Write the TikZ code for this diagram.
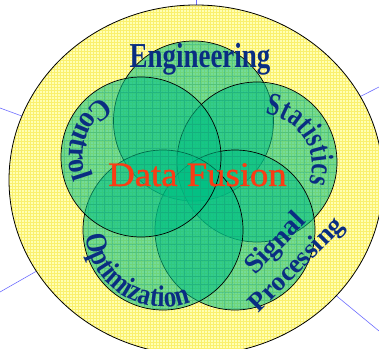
\documentclass[tikz,border=0pt]{standalone}
\usepackage{fontspec}
\setmainfont{Liberation Serif}
\newfontfamily\engfont[FakeStretch=0.77]{Liberation Serif}
\newfontfamily\ctlfont[FakeStretch=0.92]{Liberation Serif}
\newfontfamily\statfont[FakeStretch=0.74]{Liberation Serif}
\newfontfamily\optfont[FakeStretch=0.84]{Liberation Serif}
\newfontfamily\dffont[FakeStretch=1.07,FakeBold=1.2]{Liberation Serif}
\newcommand\ctlfmt{\ctlfont\bfseries\fontsize{30}{30}\selectfont}
\newcommand\statfmt{\statfont\bfseries\fontsize{32}{32}\selectfont}
\newcommand\optfmt{\optfont\bfseries\fontsize{30}{30}\selectfont}
\usetikzlibrary{patterns,decorations.text}
\definecolor{bgyellow}{RGB}{255,255,180}
\definecolor{gridyellow}{RGB}{250,240,110}
\definecolor{fusegreen}{RGB}{0,192,132}
\definecolor{gridgreen}{RGB}{30,160,120}
\definecolor{labelblue}{RGB}{10,45,130}
\definecolor{fusered}{RGB}{250,60,20}
\definecolor{raycol}{RGB}{110,110,255}
\begin{document}
\begin{tikzpicture}[x=1pt,y=1pt,
  ray/.style={draw=raycol, line width=0.6pt},
  rim/.style={draw=black, line width=0.8pt},
  circline/.style={draw=black, line width=0.7pt},
  gfill/.style={fill=fusegreen, fill opacity=0.55},
  ggrid/.style={draw=gridgreen, draw opacity=0.35, line width=0.5pt},
  lbl/.style={text=labelblue, inner sep=0pt, anchor=base}]
\useasboundingbox (0,0) rectangle (379,348);
\fill[white] (0,0) rectangle (379,348);
\coordinate (ctr) at (196,168);
\coordinate (r1) at (0,240);
\coordinate (r2) at (196,348);
\coordinate (r3) at (379,261);
\coordinate (r4) at (379,17);
\coordinate (r5) at (0,56);
\foreach \r in {r1,r2,r3,r4,r5}{\draw[ray] (ctr) -- (\r);}
\fill[bgyellow] (ctr) ellipse [x radius=187, y radius=175];
\fill[pattern=grid, pattern color=gridyellow] (ctr) ellipse [x radius=187, y radius=175];
\draw[rim] (ctr) ellipse [x radius=187, y radius=175];
\coordinate (cE) at (193.5,227);
\coordinate (cS) at (257,186);
\coordinate (cP) at (235,118);
\coordinate (cO) at (163,118);
\coordinate (cC) at (141,191);
\coordinate (cSt) at (260,182);
\foreach \c in {cE,cS,cP,cO,cC}{
  \begin{scope}
    \clip (\c) circle (80);
    \fill[gfill] (\c) circle (80);
    \draw[ggrid, step=8] (40,20) grid (360,330);
  \end{scope}
  \draw[circline] (\c) circle (80);
}
\node[lbl, font=\engfont\bfseries\fontsize{35}{35}\selectfont] (eng) at (200,280) {Engineering};
\node[anchor=base, inner sep=0pt, text=fusered, font=\dffont\fontsize{34.3}{34.3}\selectfont] (df) at (197.5,162) {Data Fusion};
\node[lbl, rotate=46, font=\bfseries\fontsize{28}{28}\selectfont] (sig) at (281,99) {Signal};
\node[lbl, rotate=45, font=\bfseries\fontsize{27}{27}\selectfont] (proc) at (302,78) {Processing};
\path[decorate, decoration={text along path, text={|\ctlfmt|Control}, text color=labelblue, text align={fit to path}}] (cC) ++(123:72) arc[start angle=123, end angle=201, radius=72];
\path[decorate, decoration={text along path, text={|\statfmt|Statistics}, text color=labelblue, text align={fit to path}}] (cSt) ++(84:52) arc[start angle=84, end angle=-19, radius=52];
\path[decorate, decoration={text along path, text={|\optfmt|Optimization}, text color=labelblue, text align={fit to path}}] (cO) ++(184:77) arc[start angle=184, end angle=291, radius=77];
\end{tikzpicture}
\end{document}
